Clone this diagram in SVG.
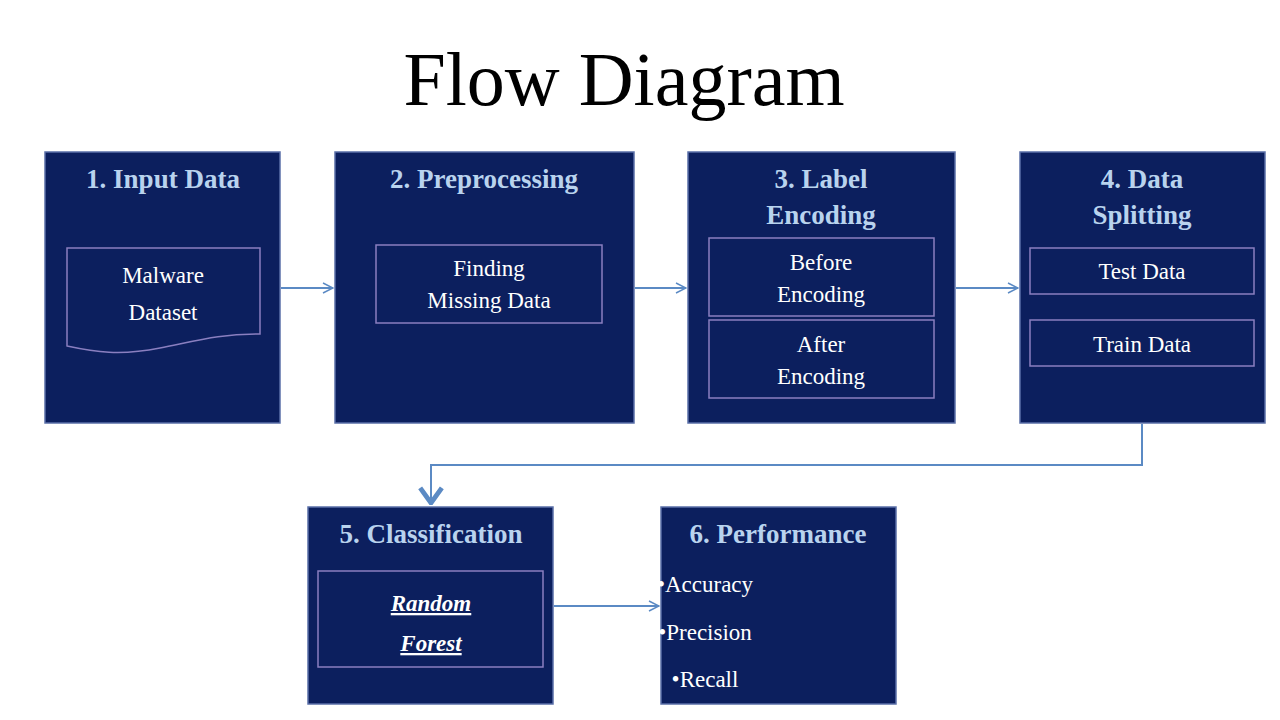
<svg xmlns="http://www.w3.org/2000/svg" width="1280" height="720" viewBox="0 0 1280 720">
<style>
.box{fill:#0c1f5e;stroke:#5a6fa8;stroke-width:1.5}
.in{fill:none;stroke:#8a7fc0;stroke-width:1.5}
.h{font-family:"Liberation Serif",serif;font-weight:bold;font-size:27px;fill:#b9d3ee;text-anchor:middle}
.t{font-family:"Liberation Serif",serif;font-size:23px;fill:#fff;text-anchor:middle}
.c{stroke:#5b8ac4;stroke-width:2;fill:none}
</style>
<defs>
<marker id="a" viewBox="0 0 12 12" refX="11" refY="6" markerWidth="12" markerHeight="12" markerUnits="userSpaceOnUse" orient="auto"><path d="M1,1 L11,6 L1,11" fill="none" stroke="#5b8ac4" stroke-width="1.5"/></marker>
<marker id="b" viewBox="0 0 12 12" refX="6" refY="11" markerWidth="26" markerHeight="26" markerUnits="userSpaceOnUse" orient="0"><path d="M1,4 L6,11 L11,4" fill="none" stroke="#5b8ac4" stroke-width="2.2"/></marker>
</defs>
<rect width="1280" height="720" fill="#fff"/>
<text x="624" y="105" font-family="Liberation Serif,serif" font-size="76" text-anchor="middle" fill="#000">Flow Diagram</text>
<g id="n1"><rect class="box" x="45" y="152" width="235" height="271"/><text class="h" x="163" y="188">1. Input Data</text>
<path class="in" d="M67,248 H260 V334 C220,334 200,340 160,348 C120,356 95,352 67,346 Z"/>
<text class="t" x="163" y="283" font-size="26">Malware</text><text class="t" x="163" y="320" font-size="26">Dataset</text></g>
<g id="n2"><rect class="box" x="335" y="152" width="299" height="271"/><text class="h" x="484" y="188">2. Preprocessing</text>
<rect class="in" x="376" y="245" width="226" height="78"/><text class="t" x="489" y="276">Finding</text><text class="t" x="489" y="308">Missing Data</text></g>
<g id="n3"><rect class="box" x="688" y="152" width="267" height="271"/><text class="h" x="821" y="188">3. Label</text><text class="h" x="821" y="224">Encoding</text>
<rect class="in" x="709" y="238" width="225" height="78"/><text class="t" x="821" y="270">Before</text><text class="t" x="821" y="302">Encoding</text>
<rect class="in" x="709" y="320" width="225" height="78"/><text class="t" x="821" y="352">After</text><text class="t" x="821" y="384">Encoding</text></g>
<g id="n4"><rect class="box" x="1020" y="152" width="245" height="271"/><text class="h" x="1142" y="188">4. Data</text><text class="h" x="1142" y="224">Splitting</text>
<rect class="in" x="1030" y="248" width="224" height="46"/><text class="t" x="1142" y="279">Test Data</text>
<rect class="in" x="1030" y="320" width="224" height="46"/><text class="t" x="1142" y="352">Train Data</text></g>
<g id="n5"><rect class="box" x="308" y="507" width="245" height="197"/><text class="h" x="431" y="543">5. Classification</text>
<rect class="in" x="318" y="571" width="225" height="96"/>
<text class="t" x="431" y="611" font-size="31" font-weight="bold" font-style="italic" text-decoration="underline">Random</text>
<text class="t" x="431" y="651" font-size="31" font-weight="bold" font-style="italic" text-decoration="underline">Forest</text></g>
<g id="n6"><rect class="box" x="661" y="507" width="235" height="197"/><text class="h" x="778" y="543">6. Performance</text>
<text class="t" x="705" y="592" text-anchor="start">•Accuracy</text><text class="t" x="705" y="640" text-anchor="start">•Precision</text><text class="t" x="705" y="687" text-anchor="start">•Recall</text></g>
<g id="connectors">
<line class="c" x1="281" y1="288" x2="333" y2="288" marker-end="url(#a)"/>
<line class="c" x1="635" y1="288" x2="686" y2="288" marker-end="url(#a)"/>
<line class="c" x1="956" y1="288" x2="1018" y2="288" marker-end="url(#a)"/>
<path class="c" d="M1142,424 V465 H431 V503" stroke-width="5" marker-end="url(#b)"/>
<line class="c" x1="554" y1="606" x2="659" y2="606" marker-end="url(#a)"/>
</g>
</svg>
